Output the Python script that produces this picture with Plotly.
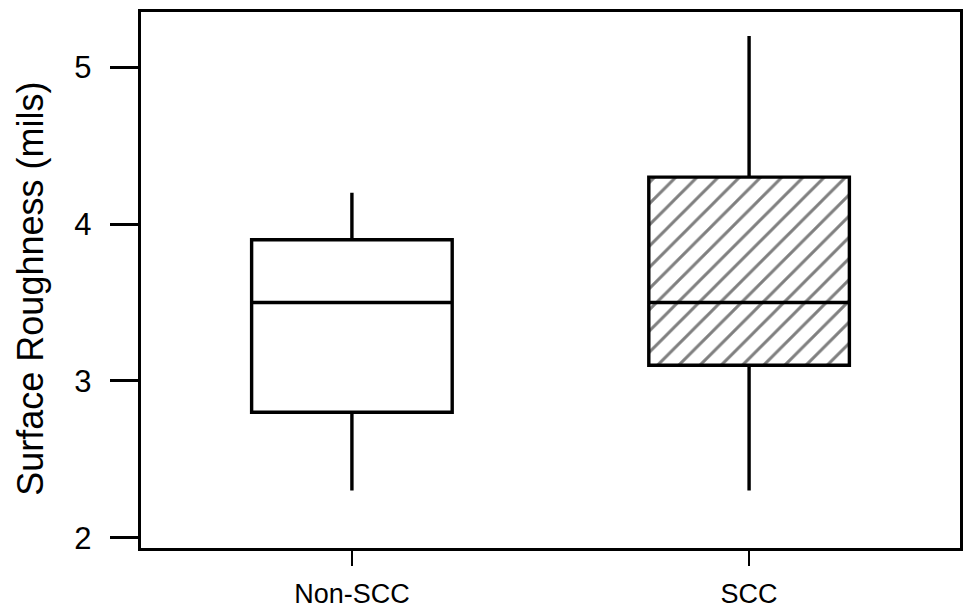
import plotly.graph_objects as go

# Surface roughness summary statistics per group
groups = ["Non-SCC", "SCC"]
positions = [0, 1]
lower_whisker = [2.3, 2.3]
q1 = [2.8, 3.1]
median = [3.5, 3.5]
q3 = [3.9, 4.3]
upper_whisker = [4.2, 5.2]
y_ticks = [2, 3, 4, 5]

box_width = 0.505

fig = go.Figure()

# Hatched fill behind the SCC box
fig.add_trace(go.Bar(
    x=[positions[1]],
    y=[q3[1] - q1[1]],
    base=[q1[1]],
    width=box_width,
    marker=dict(
        color="white",
        line=dict(width=0),
        pattern=dict(shape="/", fgcolor="black", bgcolor="white", size=15, solidity=0.2),
    ),
    showlegend=False,
    hoverinfo="skip",
))

fills = ["white", "rgba(0,0,0,0)"]
for i in range(len(groups)):
    fig.add_trace(go.Box(
        x=[positions[i]],
        q1=[q1[i]],
        median=[median[i]],
        q3=[q3[i]],
        lowerfence=[lower_whisker[i]],
        upperfence=[upper_whisker[i]],
        width=box_width,
        whiskerwidth=0,
        boxpoints=False,
        fillcolor=fills[i],
        line=dict(color="black", width=3.4),
        showlegend=False,
        name=groups[i],
    ))

fig.add_annotation(
    text="Surface Roughness (mils)",
    xref="paper", yref="paper",
    x=-0.136, y=0.483,
    xanchor="center", yanchor="middle",
    textangle=-90,
    showarrow=False,
    font=dict(size=36, color="black"),
)

fig.update_layout(
    width=965,
    height=614,
    margin=dict(l=141, r=2, t=12, b=66),
    paper_bgcolor="white",
    plot_bgcolor="white",
    boxmode="overlay",
    barmode="overlay",
    font=dict(family="Liberation Sans, Arial, sans-serif", color="black"),
    xaxis=dict(
        range=[-0.531, 1.531],
        tickvals=positions,
        ticktext=groups,
        ticks="outside",
        ticklen=15,
        tickwidth=2,
        tickcolor="black",
        tickfont=dict(family="Liberation Sans, Arial", size=27),
        ticklabelstandoff=4,
        showline=True,
        linewidth=3.4,
        linecolor="black",
        mirror=True,
        showgrid=False,
        zeroline=False,
    ),
    yaxis=dict(
        range=[1.934, 5.353],
        tickvals=y_ticks,
        ticks="outside",
        ticklen=28,
        tickwidth=3,
        tickcolor="black",
        tickfont=dict(size=31),
        ticklabelstandoff=12,
        showline=True,
        linewidth=3.4,
        linecolor="black",
        mirror=True,
        showgrid=False,
        zeroline=False,
    ),
)

fig.write_html("out.html")
